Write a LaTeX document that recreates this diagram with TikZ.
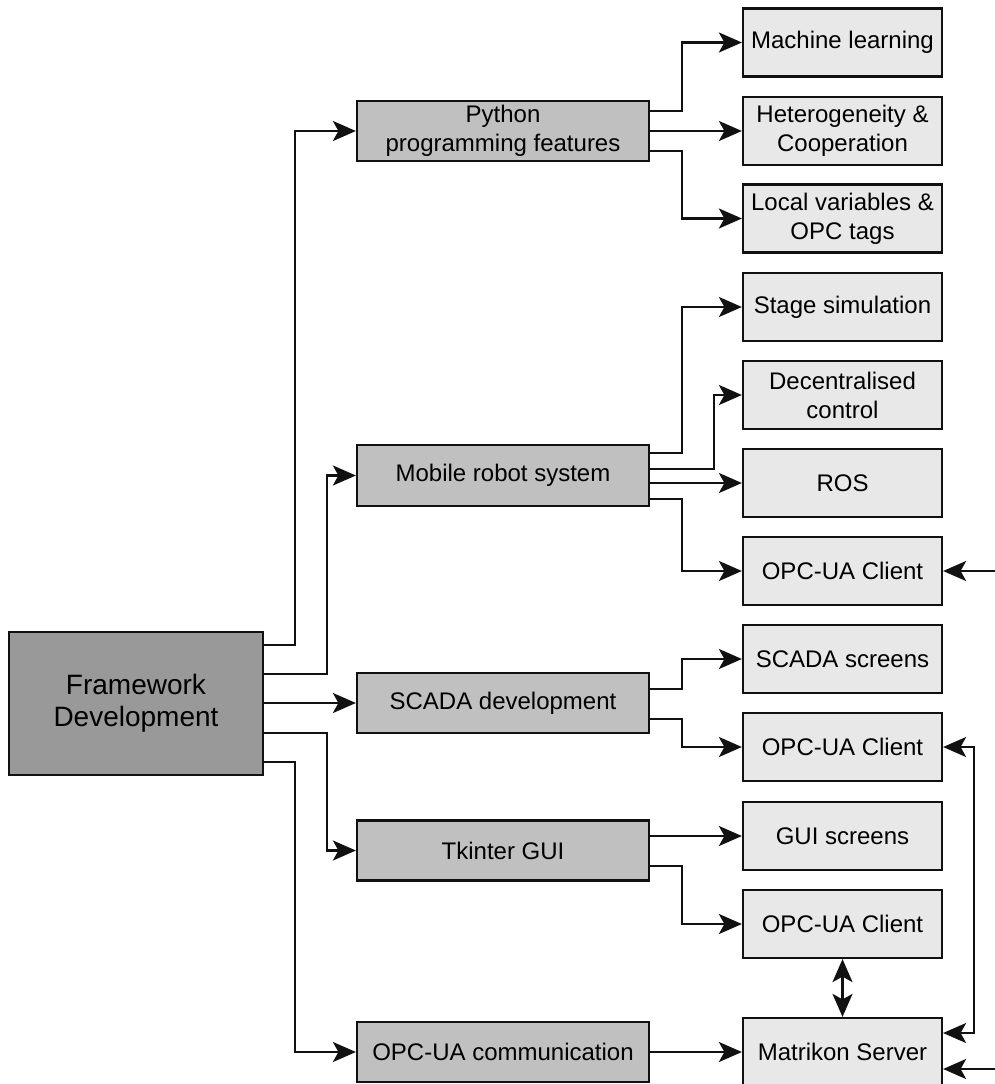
\documentclass[tikz,border=0pt]{standalone}
\usepackage{fontspec}
\setmainfont{Liberation Sans}
\usetikzlibrary{arrows.meta}
\definecolor{rootfill}{HTML}{999999}
\definecolor{groupfill}{HTML}{C0C0C0}
\definecolor{leaffill}{HTML}{E8E8E8}
\definecolor{edge}{HTML}{111111}
\tikzset{
  box/.style={draw=edge, line width=2.2pt, inner sep=0pt, align=center,
    font=\fontsize{24}{29}\selectfont},
  rootbox/.style={box, fill=rootfill, minimum width=254pt, minimum height=143pt,
    font=\fontsize{28}{32}\selectfont},
  groupbox/.style={box, fill=groupfill, minimum width=292pt, minimum height=60pt},
  leafbox/.style={box, fill=leaffill, minimum width=199pt, minimum height=68pt},
  tip/.tip={Stealth[length=23pt, width=20pt, inset=5.5pt]},
  link/.style={draw=edge, line width=2.2pt, -tip},
  duallink/.style={draw=edge, line width=2.2pt, tip-tip}
}
\begin{document}
\begin{tikzpicture}[x=1pt, y=-1pt]
\useasboundingbox (0,0) rectangle (995,1084);

% root
\node[rootbox] (fw) at (136,703.5) {Framework\\Development};

% second level
\node[groupbox] (py)    at (503,131)   {Python\\programming features};
\node[groupbox, minimum height=61pt] (mob) at (503,475.5) {Mobile robot system};
\node[groupbox] (scada) at (503,703)   {SCADA development};
\node[groupbox] (tk)    at (503,850.5) {Tkinter GUI};
\node[groupbox] (opc)   at (503,1052)  {OPC-UA communication};

% third level
\node[leafbox] (ml)    at (842.5,42.5)  {Machine learning};
\node[leafbox] (het)   at (842.5,131)   {Heterogeneity \&\\Cooperation};
\node[leafbox] (loc)   at (842.5,218.5) {Local variables \&\\OPC tags};
\node[leafbox] (stage) at (842.5,307)   {Stage simulation};
\node[leafbox] (dec)   at (842.5,395)   {Decentralised\\control};
\node[leafbox] (ros)   at (842.5,483)   {ROS};
\node[leafbox] (cl1)   at (842.5,571)   {OPC-UA Client};
\node[leafbox] (scs)   at (842.5,659)   {SCADA screens};
\node[leafbox] (cl2)   at (842.5,747)   {OPC-UA Client};
\node[leafbox] (gui)   at (842.5,836)   {GUI screens};
\node[leafbox] (cl3)   at (842.5,924)   {OPC-UA Client};
\node[leafbox] (mat)   at (842.5,1052)  {Matrikon Server};

% free ends of the incoming links on the right
\coordinate (in1) at (995,571);
\coordinate (in2) at (995,1069);

% root to second level
\draw[link] ([yshift=58.5pt]fw.east) -- ++(31,0) |- (py.west);
\draw[link] ([yshift=29.5pt]fw.east) -- ++(63,0) |- (mob.west);
\draw[link] (fw.east |- scada.west) -- (scada.west);
\draw[link] ([yshift=-29.5pt]fw.east) -- ++(63,0) |- (tk.west);
\draw[link] ([yshift=-58.5pt]fw.east) -- ++(31,0) |- (opc.west);

% Python branch
\draw[link] ([yshift=20pt]py.east) -- ++(32,0) |- (ml.west);
\draw[link] (py.east) -- (het.west);
\draw[link] ([yshift=-20pt]py.east) -- ++(32,0) |- (loc.west);

% mobile robot branch
\draw[link] ([yshift=22.5pt]mob.east) -- ++(32,0) |- (stage.west);
\draw[link] ([yshift=6.5pt]mob.east) -- ++(64,0) |- (dec.west);
\draw[link] (mob.east |- ros.west) -- (ros.west);
\draw[link] ([yshift=-23.5pt]mob.east) -- ++(32,0) |- (cl1.west);

% SCADA branch
\draw[link] ([yshift=14pt]scada.east) -- ++(32,0) |- (scs.west);
\draw[link] ([yshift=-16pt]scada.east) -- ++(32,0) |- (cl2.west);

% Tkinter branch
\draw[link] (tk.east |- gui.west) -- (gui.west);
\draw[link] ([yshift=-15.5pt]tk.east) -- ++(32,0) |- (cl3.west);

% OPC-UA branch
\draw[link] (opc.east) -- (mat.west);

% client / server links
\draw[duallink] (cl3.south) -- (mat.north);
\draw[duallink] (cl2.east) -- ++(31,0) |- ([yshift=19pt]mat.east);
\draw[link] (in1) -- (cl1.east);
\draw[link] (in2) -- ([yshift=-17pt]mat.east);
\end{tikzpicture}
\end{document}
